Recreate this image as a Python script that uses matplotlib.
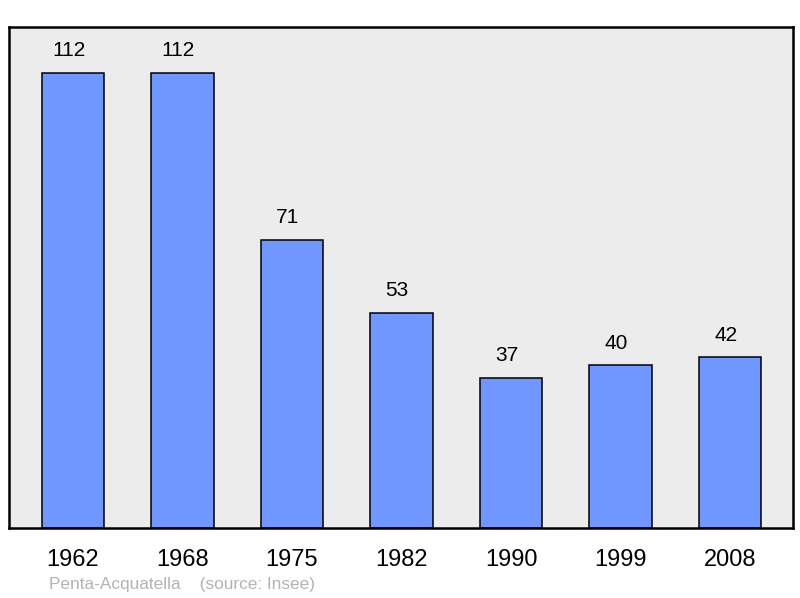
import numpy as np
import matplotlib.pyplot as plt

plt.rcParams['font.family'] = ['Liberation Sans', 'DejaVu Sans']

years = ["1962", "1968", "1975", "1982", "1990", "1999", "2008"]
population = [112, 112, 71, 53, 37, 40, 42]
commune = "Penta-Acquatella"
source = "(source: Insee)"

fig = plt.figure(figsize=(8, 5.98), dpi=100)
ax = fig.add_axes([9/800, 70/598, 784/800, 501/598])
ax.set_facecolor("#ececec")

x = np.arange(len(years))
ax.bar(x, population, width=0.57, color="#7096ff", edgecolor="black", linewidth=1.1, zorder=2)
for xi, v in zip(x, population):
    ax.text(xi - 0.04, v + 5.4, str(v), ha="center", va="center", fontsize=15, color="black")

ax.set_xlim(-0.585, 6.575)
ax.set_ylim(0, 123.3)
ax.set_yticks([])
ax.set_xticks(x)
ax.set_xticklabels(years, fontsize=17)
ax.tick_params(axis="x", length=0, pad=15)
for s in ax.spines.values():
    s.set_linewidth(1.8)
    s.set_color("black")

fig.text(49/800, 1 - 584/598, commune + "    " + source, ha="left", va="center",
         fontsize=12.4, color="#b4b4b4")

fig.savefig("out.png", dpi=100)
